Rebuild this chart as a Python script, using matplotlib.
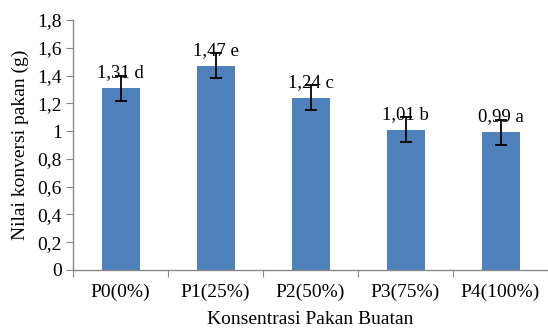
import matplotlib
matplotlib.use("Agg")
import matplotlib.pyplot as plt

categories = ["P0(0%)", "P1(25%)", "P2(50%)", "P3(75%)", "P4(100%)"]
values = [1.31, 1.47, 1.24, 1.01, 0.99]
errors = [0.09, 0.09, 0.09, 0.09, 0.09]
labels = ["1,31 d", "1,47 e", "1,24 c", "1,01 b", "0,99 a"]
yticks = [0, 0.2, 0.4, 0.6, 0.8, 1.0, 1.2, 1.4, 1.6, 1.8]
ytick_labels = ["0", "0,2", "0,4", "0,6", "0,8", "1", "1,2", "1,4", "1,6", "1,8"]

plt.rcParams['font.family'] = ['Liberation Serif', 'DejaVu Serif']
FS = 14

fig = plt.figure(figsize=(5.48, 3.29), dpi=100)
ax = fig.add_axes([73/548, (329-270)/329, (548-73)/548, 250/329])

x = range(len(categories))
ax.bar(x, values, width=0.4, color="#4F81BD", zorder=2)
ax.errorbar(x, values, yerr=errors, fmt='none', ecolor='black', elinewidth=1.3,
            capsize=4, capthick=1.3, zorder=3)
for i, (v, e, t) in enumerate(zip(values, errors, labels)):
    ax.annotate(t, (i, v + e), xytext=(0, -4), textcoords='offset points',
                ha='center', va='bottom', fontsize=13.5)

ax.set_ylim(0, 1.8)
ax.set_xlim(-0.5, 4.45)
ax.set_yticks(yticks)
ax.set_yticklabels(ytick_labels, fontsize=FS)
ax.set_xticks([i - 0.5 for i in range(len(categories) + 1)], minor=False)
ax.set_xticklabels([""] * (len(categories) + 1))
ax.set_xticks(list(x), minor=True)
ax.set_xticklabels(categories, minor=True, fontsize=FS)
ax.tick_params(axis='x', which='minor', length=0, pad=10)
ax.tick_params(axis='x', which='major', length=5, color='#888888', direction='out')
ax.tick_params(axis='y', length=5, color='#888888', direction='out', pad=3)

for s in ['top', 'right']:
    ax.spines[s].set_visible(False)
for s in ['left', 'bottom']:
    ax.spines[s].set_color('#888888')
    ax.spines[s].set_linewidth(1.0)

ax.set_ylabel("Nilai konversi pakan (g)", fontsize=FS, labelpad=6)
ax.set_xlabel("Konsentrasi Pakan Buatan", fontsize=FS, labelpad=7)

fig.savefig("out.png", dpi=100)
